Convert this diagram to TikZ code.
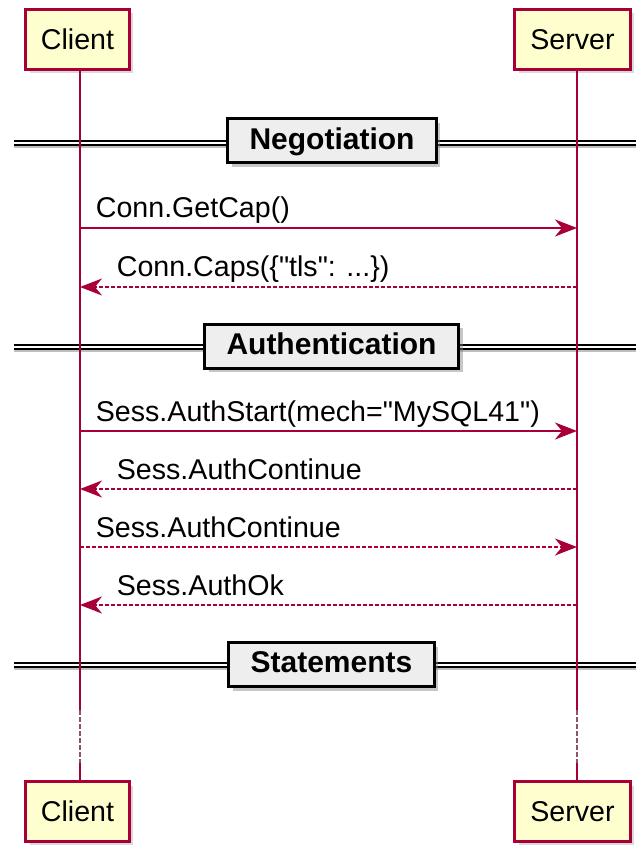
\documentclass[tikz,border=0pt]{standalone}
\usepackage{fontspec}
\setmainfont{Liberation Sans}
\usetikzlibrary{arrows.meta,shadows,positioning}
\definecolor{lifered}{HTML}{A80036}
\definecolor{partfill}{HTML}{FEFECE}
\definecolor{sepfill}{HTML}{EEEEEE}

\begin{document}
\begin{tikzpicture}[
      x=0.5pt, y=-0.5pt,
      font=\fontsize{14.3}{17}\selectfont,
      part/.style={draw=lifered, fill=partfill, line width=1.5pt,
        minimum height=30pt, inner xsep=7.7pt,
        drop shadow={shadow xshift=2pt, shadow yshift=-2pt, opacity=0.3}},
      lifeline/.style={draw=lifered, line width=0.8pt},
      pause/.style={draw=lifered!35!gray, line width=0.9pt, dash pattern=on 2.5pt off 1pt},
      msg/.style={draw=lifered, line width=0.9pt,
        -{Stealth[length=11pt, width=8.5pt, inset=3.5pt]}},
      reply/.style={msg, dash pattern=on 2pt off 1pt},
      txt/.style={inner sep=0pt, anchor=base west, yshift=5pt},
      sepbox/.style={draw=black, fill=sepfill, line width=1.5pt,
        minimum height=22pt, inner xsep=11pt, text depth=2pt,
        font=\fontsize{15}{18}\selectfont\bfseries,
        drop shadow={shadow xshift=2pt, shadow yshift=-2pt, opacity=0.45}},
      sepline/.style={draw=black, line width=0.7pt, double=white, double distance=1.3pt},
      sepshade/.style={draw=gray!50, line width=1.2pt}
    ]
      \useasboundingbox (0,0) rectangle (636,845);

      % participants, top and bottom
      \node[part] (ctop) at (77.5,39.5) {Client};
      \node[part] (stop) at (572.5,39.5) {Server};
      \node[part] (cbot) at (77.5,811.5) {Client};
      \node[part] (sbot) at (572.5,811.5) {Server};

      % lifeline positions and message rows
      \coordinate (cl) at (80,0);
      \coordinate (sl) at (577,0);
      \coordinate (m1) at (0,228);
      \coordinate (m2) at (0,287);
      \coordinate (m3) at (0,431);
      \coordinate (m4) at (0,489);
      \coordinate (m5) at (0,547);
      \coordinate (m6) at (0,605);
      \coordinate (d1) at (0,710);
      \coordinate (d2) at (0,763);

      % dividers
      \draw[sepshade] (14,147) -- (636,147);
      \draw[sepline] (14,143) -- (636,143);
      \node[sepbox] (nego) at (332,141) {Negotiation};

      \draw[sepshade] (14,351) -- (636,351);
      \draw[sepline] (14,347) -- (636,347);
      \node[sepbox] (auth) at (331.5,346) {Authentication};

      \draw[sepshade] (14,669) -- (636,669);
      \draw[sepline] (14,665) -- (636,665);
      \node[sepbox] (stmt) at (331.5,664.5) {Statements};

      % lifelines
      \draw[lifeline] (cl |- ctop.south) -- (cl |- d1);
      \draw[pause] (cl |- d1) -- (cl |- d2);
      \draw[lifeline] (cl |- d2) -- (cl |- cbot.north);
      \draw[lifeline] (sl |- stop.south) -- (sl |- d1);
      \draw[pause] (sl |- d1) -- (sl |- d2);
      \draw[lifeline] (sl |- d2) -- (sl |- sbot.north);

      % messages
      \draw[msg] (cl |- m1) -- (sl |- m1)
        node[txt, pos=0, xshift=7.5pt] {Conn.GetCap()};
      \draw[reply] (sl |- m2) -- (cl |- m2)
        node[txt, pos=1, xshift=18pt] {Conn.Caps(\{\textquotedbl tls\textquotedbl: ...\})};
      \draw[msg] (cl |- m3) -- (sl |- m3)
        node[txt, pos=0, xshift=7.5pt] {Sess.AuthStart(mech=\textquotedbl MySQL41\textquotedbl)};
      \draw[reply] (sl |- m4) -- (cl |- m4)
        node[txt, pos=1, xshift=18pt] {Sess.AuthContinue};
      \draw[reply] (cl |- m5) -- (sl |- m5)
        node[txt, pos=0, xshift=7.5pt] {Sess.AuthContinue};
      \draw[reply] (sl |- m6) -- (cl |- m6)
        node[txt, pos=1, xshift=18pt] {Sess.AuthOk};
    \end{tikzpicture}
\end{document}
